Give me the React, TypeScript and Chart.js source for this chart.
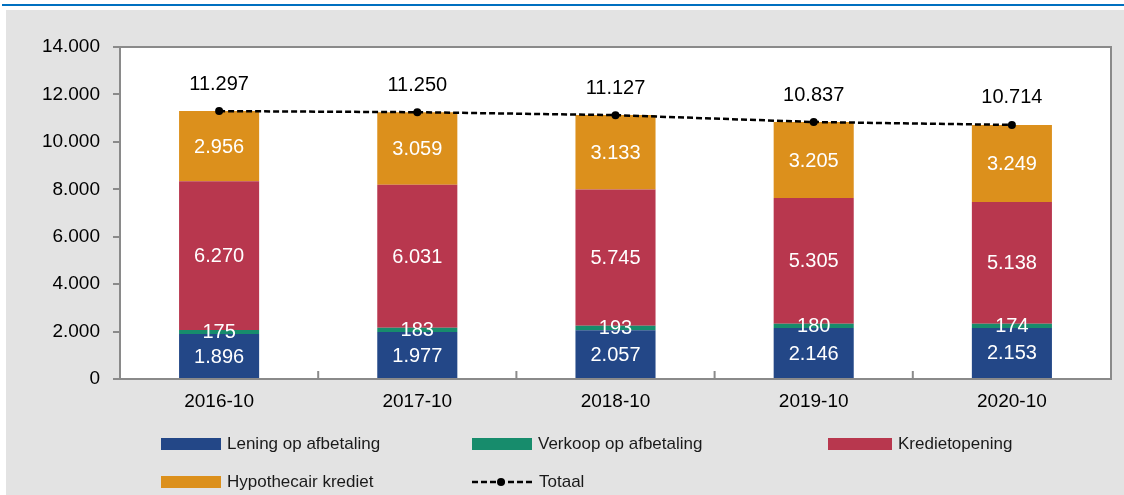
import React, { useEffect, useRef } from "react";
import { Chart, registerables } from "chart.js";

Chart.register(...registerables);

const categories = ["2016-10", "2017-10", "2018-10", "2019-10", "2020-10"];
const leningOpAfbetaling = [1896, 1977, 2057, 2146, 2153];
const verkoopOpAfbetaling = [175, 183, 193, 180, 174];
const kredietopening = [6270, 6031, 5745, 5305, 5138];
const hypothecairKrediet = [2956, 3059, 3133, 3205, 3249];
const totaal = [11297, 11250, 11127, 10837, 10714];
const yMin = 0;
const yMax = 14000;
const yStep = 2000;

const seriesNames = [
  "Lening op afbetaling",
  "Verkoop op afbetaling",
  "Kredietopening",
  "Hypothecair krediet",
  "Totaal",
];
const seriesColors = ["#234787", "#178c6c", "#b8374e", "#dc901c", "#000000"];

const FONT = "'Liberation Sans', Arial, sans-serif";
const AXIS_GRAY = "#8a8a8a";

const fmt = (v: number) =>
  String(Math.round(v)).replace(/\B(?=(\d{3})+(?!\d))/g, ".");

const plotPlugin = {
  id: "plotDecor",
  beforeDraw(chart: any) {
    const { ctx, chartArea } = chart;
    ctx.save();
    ctx.fillStyle = "#ffffff";
    ctx.fillRect(
      chartArea.left,
      chartArea.top,
      chartArea.right - chartArea.left,
      chartArea.bottom - chartArea.top
    );
    ctx.restore();
  },
  afterDatasetsDraw(chart: any) {
    const { ctx, chartArea } = chart;
    const xs = chart.scales.x;
    ctx.save();
    // plot border
    ctx.strokeStyle = AXIS_GRAY;
    ctx.lineWidth = 2;
    ctx.strokeRect(
      chartArea.left,
      chartArea.top,
      chartArea.right - chartArea.left,
      chartArea.bottom - chartArea.top
    );
    // inner category boundary ticks
    for (let i = 1; i < categories.length; i++) {
      const bx = (xs.getPixelForValue(i - 1) + xs.getPixelForValue(i)) / 2;
      ctx.beginPath();
      ctx.moveTo(bx, chartArea.bottom);
      ctx.lineTo(bx, chartArea.bottom - 8);
      ctx.stroke();
    }
    // labels
    ctx.textAlign = "center";
    ctx.textBaseline = "middle";
    chart.data.datasets.forEach((ds: any, di: number) => {
      const meta = chart.getDatasetMeta(di);
      meta.data.forEach((el: any, i: number) => {
        const v = ds.data[i];
        if (ds.type === "line") {
          ctx.fillStyle = "#000000";
          ctx.font = `20px ${FONT}`;
          ctx.fillText(fmt(v), el.x, el.y - 27);
        } else {
          ctx.fillStyle = "#ffffff";
          ctx.font = `20px ${FONT}`;
          ctx.fillText(fmt(v), el.x, (el.y + el.base) / 2 + 1);
        }
      });
    });
    ctx.restore();
  },
};

function Legend() {
  const items = [
    { i: 0, left: 161, top: 438 },
    { i: 1, left: 472, top: 438 },
    { i: 2, left: 828, top: 438 },
    { i: 3, left: 161, top: 476 },
    { i: 4, left: 472, top: 476 },
  ];
  return (
    <>
      {items.map(({ i, left, top }) => (
        <div
          key={i}
          style={{
            position: "absolute",
            left,
            top: top - 6,
            height: 24,
            display: "flex",
            alignItems: "center",
            fontFamily: FONT,
            fontSize: 17,
            color: "#1a1a1a",
            whiteSpace: "nowrap",
          }}
        >
          {i === 4 ? (
            <svg width={61} height={12} style={{ marginRight: 6 }}>
              <line
                x1={0}
                y1={6}
                x2={61}
                y2={6}
                stroke="#000"
                strokeWidth={2.5}
                strokeDasharray="6 3"
              />
              <circle cx={29} cy={6} r={4} fill="#000" />
            </svg>
          ) : (
            <div
              style={{
                width: i === 2 ? 64 : 60,
                height: 12,
                background: seriesColors[i],
                marginRight: 6,
              }}
            />
          )}
          <span>{seriesNames[i]}</span>
        </div>
      ))}
    </>
  );
}

export default function App() {
  const canvasRef = useRef<HTMLCanvasElement | null>(null);

  useEffect(() => {
    if (!canvasRef.current) return;
    const barSeries = [
      leningOpAfbetaling,
      verkoopOpAfbetaling,
      kredietopening,
      hypothecairKrediet,
    ];
    const chart = new Chart(canvasRef.current, {
      type: "bar",
      data: {
        labels: categories,
        datasets: [
          ...barSeries.map((d, i) => ({
            type: "bar" as const,
            label: seriesNames[i],
            data: d,
            backgroundColor: seriesColors[i],
            borderWidth: 0,
            stack: "bars",
            order: 1,
            barPercentage: 0.404,
            categoryPercentage: 1,
          })),
          {
            type: "line" as const,
            label: seriesNames[4],
            data: totaal,
            borderColor: "#000",
            backgroundColor: "#000",
            borderWidth: 2.5,
            borderDash: [6, 3],
            pointRadius: 4,
            pointBackgroundColor: "#000",
            pointBorderWidth: 0,
            stack: "total",
            order: 0,
            tension: 0,
          },
        ] as any,
      },
      options: {
        animation: false,
        responsive: false,
        layout: { padding: { left: 0, right: 13, top: 37, bottom: 76 } },
        plugins: {
          legend: { display: false },
          tooltip: { enabled: false },
        },
        scales: {
          x: {
            stacked: true,
            grid: { display: false, drawTicks: false },
            border: { display: false },
            ticks: {
              color: "#000",
              font: { family: FONT, size: 19 },
              padding: 11,
            },
            afterFit(scale: any) {
              scale.height = 40;
            },
          },
          y: {
            stacked: true,
            min: yMin,
            max: yMax,
            ticks: {
              stepSize: yStep,
              color: "#000",
              font: { family: FONT, size: 19 },
              padding: 13,
              callback: (v: any) => fmt(Number(v)),
            },
            grid: {
              drawOnChartArea: false,
              tickLength: 7,
              color: AXIS_GRAY,
              lineWidth: 2,
            },
            border: { display: false },
            afterFit(scale: any) {
              scale.width = 114;
            },
          },
        },
      },
      plugins: [plotPlugin],
    });
    return () => chart.destroy();
  }, []);

  return (
    <div
      style={{
        position: "absolute",
        left: 0,
        top: 0,
        width: 1124,
        height: 495,
        background: "#ffffff",
        overflow: "hidden",
      }}
    >
      <div
        style={{
          position: "absolute",
          left: 2,
          top: 4,
          width: 1122,
          height: 2,
          background: "#0070c0",
        }}
      />
      <div
        style={{
          position: "absolute",
          left: 6,
          top: 10,
          width: 1118,
          height: 485,
          background: "#e3e3e3",
        }}
      >
        <canvas ref={canvasRef} width={1118} height={485} />
      </div>
      <Legend />
    </div>
  );
}
